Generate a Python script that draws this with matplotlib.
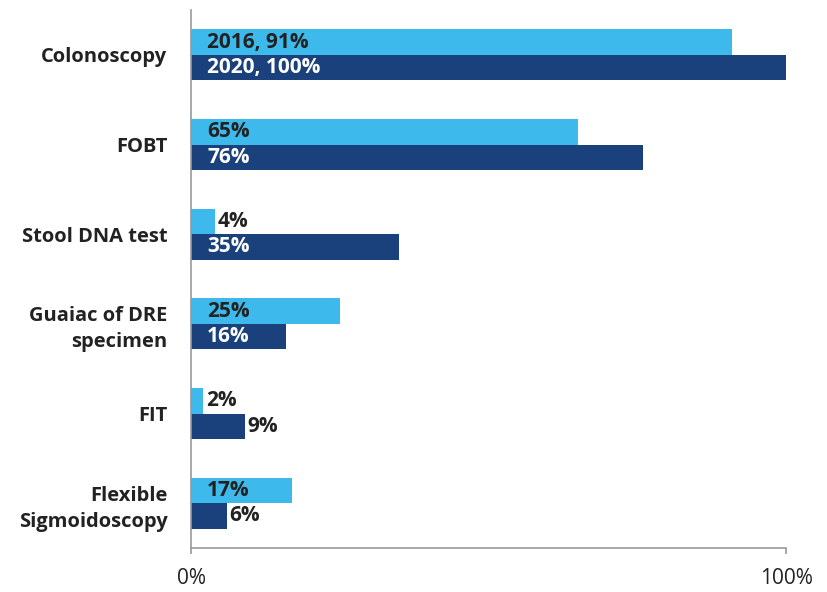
import matplotlib.pyplot as plt
import numpy as np

# ----------------------------------------------------------
# Data
# ----------------------------------------------------------
categories = ["Colonoscopy", "FOBT", "Stool DNA test", "Guaiac of DRE\nspecimen",
              "FIT", "Flexible\nSigmoidoscopy"]
vals_2016 = [91, 65, 4, 25, 2, 17]
vals_2020 = [100, 76, 35, 16, 9, 6]
labels_2016 = ["2016, 91%", "65%", "4%", "25%", "2%", "17%"]
labels_2020 = ["2020, 100%", "76%", "35%", "16%", "9%", "6%"]

light = "#3DBAEB"
dark = "#1A417C"
txt = "#222222"

plt.rcParams['font.family'] = ['Open Sans', 'DejaVu Sans']

fig = plt.figure(figsize=(8.28, 5.92), dpi=100)
ax = fig.add_axes([0.2307, 0.0743, 0.7186, 0.9087])

y = np.arange(len(categories))
h = 0.285
ax.barh(y - h / 2, vals_2016, height=h, color=light)
ax.barh(y + h / 2, vals_2020, height=h, color=dark)

# labels: inside the bar when there is room, otherwise just past the end
for i in range(len(categories)):
    for v, lab, yy, inside_col in [(vals_2016[i], labels_2016[i], y[i] - h / 2, txt),
                                   (vals_2020[i], labels_2020[i], y[i] + h / 2, "white")]:
        if v >= 12:
            ax.text(2.7, yy, lab, color=inside_col, fontsize=15, fontweight='bold',
                    va='center', ha='left')
        else:
            ax.text(v + 0.5, yy, lab, color=txt, fontsize=15, fontweight='bold',
                    va='center', ha='left')

ax.set_ylim(len(categories) - 0.5, -0.5)
ax.set_xlim(0, 100)
ax.set_yticks(y)
ax.set_yticklabels(categories, fontsize=14.5, fontweight='bold', color=txt,
                   linespacing=1.4)
ax.tick_params(axis='y', length=0, pad=17)
ax.set_xticks([0, 100])
ax.set_xticklabels(["0%", "100%"], fontsize=15, color=txt)
ax.tick_params(axis='x', length=4.5, width=1.2, color="#999999", pad=10)

for s in ['top', 'right']:
    ax.spines[s].set_visible(False)
for s in ['left', 'bottom']:
    ax.spines[s].set_color("#999999")
    ax.spines[s].set_linewidth(1.2)

fig.savefig("out.png", dpi=100)
